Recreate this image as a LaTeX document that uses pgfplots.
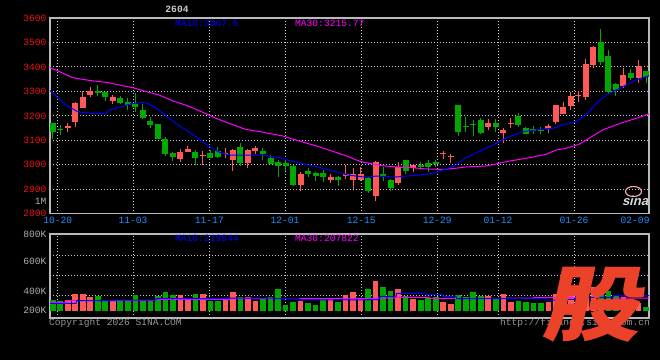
\documentclass[border=0pt]{standalone}
\usepackage{pgfplots}
\pgfplotsset{compat=1.18}
\usepackage{pgfplotstable}
\usepackage{fontspec}
\setmainfont{Liberation Sans}
\setmonofont{Liberation Mono}
\newfontfamily\cjk[FakeSlant=0.18]{Noto Sans CJK SC}
\newfontfamily\sinafont[FakeSlant=0.25]{Liberation Sans}
\definecolor{cup}{RGB}{255,88,88}
\definecolor{cdn}{RGB}{0,168,0}
\definecolor{ma10}{RGB}{0,0,255}
\definecolor{ma30}{RGB}{255,0,255}
\definecolor{framec}{RGB}{185,185,185}
\definecolor{gridc}{RGB}{200,200,200}
\definecolor{xlab}{RGB}{30,144,255}
\definecolor{ylab}{RGB}{235,20,20}
\definecolor{glab}{RGB}{175,175,175}
\definecolor{logoc}{RGB}{236,66,42}
\definecolor{toplab}{RGB}{205,205,205}
\definecolor{copyc}{RGB}{150,150,150}
\definecolor{eyec}{RGB}{240,160,170}
\definecolor{sinac}{RGB}{215,215,215}

\pgfplotstableread{
n o h l c v
2 3149 3171 3135 3157 340
3 3174 3255 3156 3253 380
4 3232 3302 3232 3277 380
5 3285 3318 3277 3302 360
8 3262 3285 3250 3277 340
17 3025 3065 3011 3052 373
18 3054 3075 3051 3063 353
20 3035 3056 2999 3039 380
23 3047 3067 3026 3050 340
24 3021 3065 2976 3060 393
26 3009 3065 2988 3060 360
27 3056 3075 3045 3067 335
33 2919 2971 2894 2962 335
37 2938 2961 2927 2949 347
39 2953 2999 2942 2962 373
40 2939 2986 2900 2962 393
41 2938 2990 2935 2962 347
43 2872 3015 2853 3011 467
46 2927 3011 2917 2992 413
48 2986 3005 2972 3001 349
52 3043 3056 3024 3050 327
53 3030 3044 3006 3036 313
58 3156 3187 3144 3171 367
60 3131 3149 3090 3142 380
61 3168 3190 3152 3172 327
66 3145 3168 3131 3159 327
67 3174 3244 3168 3244 380
68 3208 3255 3208 3235 373
69 3240 3299 3223 3281 400
70 3280 3302 3255 3284 380
71 3278 3434 3266 3412 440
72 3408 3486 3397 3482 430
76 3322 3397 3313 3367 360
78 3353 3428 3336 3404 320
}\upT

\pgfplotstableread{
n o h l c v
0 3171 3171 3107 3134 340
1 3145 3163 3122 3142 333
6 3300 3326 3281 3295 367
7 3298 3298 3262 3278 333
9 3273 3281 3247 3253 331
10 3257 3272 3225 3244 333
11 3250 3293 3217 3236 373
12 3225 3247 3189 3191 331
13 3179 3197 3152 3163 333
14 3167 3167 3105 3107 367
15 3105 3114 3037 3045 393
16 3048 3054 3017 3032 373
19 3052 3059 2999 3029 380
21 3050 3062 3026 3029 333
22 3056 3073 3029 3032 333
25 3073 3089 2996 3009 360
28 3056 3067 3021 3043 347
29 3029 3040 3003 3005 360
30 3011 3018 2951 2996 413
31 3009 3018 2975 2996 307
32 2996 2999 2915 2919 327
34 2975 2986 2950 2961 320
35 2965 2969 2935 2956 309
36 2968 2979 2931 2951 347
38 2950 2954 2915 2939 327
42 2945 2950 2886 2893 413
44 2961 2992 2935 2953 427
45 2939 2942 2894 2905 400
47 3020 3020 2964 2976 367
49 2999 3011 2979 2992 342
50 3007 3018 2972 2992 356
51 3013 3018 2990 3005 362
54 3244 3244 3119 3134 373
55 3159 3197 3134 3156 360
56 3168 3183 3119 3161 393
57 3183 3190 3126 3130 367
59 3171 3187 3135 3156 347
62 3199 3212 3154 3163 335
63 3149 3154 3125 3127 327
64 3145 3157 3125 3139 320
65 3142 3154 3125 3138 320
73 3501 3555 3408 3422 420
74 3445 3469 3288 3299 400
75 3330 3333 3283 3306 373
77 3374 3390 3347 3353 346
79 3383 3383 3336 3360 293
}\dnT

\pgfplotsset{
  kbase/.style={
    scale only axis, anchor=south west, width=599pt,
    xmin=-0.36, xmax=79.4,
    axis line style={draw=framec, line width=1.2pt},
    tick style={draw=none}, major tick length=0pt,
    major grid style={draw=gridc, line width=0.9pt, dash pattern=on 1pt off 2pt},
    tick label style={font=\ttfamily\fontsize{9.6}{10}\selectfont},
    /pgf/number format/assume math mode=true,
    xtick={0.666,10.7,20.86,30.93,41.09,51.21,59.3,69.41},
  },
  wick/.style={draw=none, forget plot, error bars/.cd, y dir=minus, y explicit, error mark=none,
    error bar style={draw=#1, line width=1pt, solid}},
  body/.style={draw=none, forget plot, error bars/.cd, y dir=minus, y explicit, error mark=none,
    error bar style={draw=#1, line width=6pt, solid}},
  vbar/.style={draw=none, forget plot, error bars/.cd, y dir=minus, y explicit, error mark=none,
    error bar style={draw=#1, line width=5.6pt, solid}},
}

\begin{document}
\begin{tikzpicture}[x=1pt,y=1pt]
\fill[black] (0,0) rectangle (660,360);
\useasboundingbox (0,0) rectangle (660,360);
\coordinate (PA) at (50,146.3);
\coordinate (VA) at (50,42);

% ---------------- price panel ----------------
\begin{axis}[kbase, at={(PA)}, height=195.7pt,
  ymin=2800, ymax=3600,
  xmajorgrids=true, ymajorgrids=true,
  xticklabels={10-20,11-03,11-17,12-01,12-15,12-29,01-12,01-26},
  xticklabel style={text=xlab},
  extra x ticks={77.55}, extra x tick labels={02-09},
  extra x tick style={xmajorgrids=false, xticklabel style={text=xlab}},
  ytick={2800,2900,3000,3100,3200,3300,3400,3500,3600},
  yticklabels={2800,2900,3000,3100,3200,3300,3400,3500,3600},
  yticklabel style={text=ylab},
  extra y ticks={2850}, extra y tick labels={1M},
  extra y tick style={ymajorgrids=false, yticklabel style={text=glab}},
]
\addplot[wick=cup] table[x=n, y=h, y error minus expr=\thisrow{h}-\thisrow{l}] {\upT};
\addplot[wick=cdn] table[x=n, y=h, y error minus expr=\thisrow{h}-\thisrow{l}] {\dnT};
\addplot[body=cup] table[x=n, y=c, y error minus expr=\thisrow{c}-\thisrow{o}] {\upT};
\addplot[body=cdn] table[x=n, y=o, y error minus expr=\thisrow{o}-\thisrow{c}] {\dnT};
% MA30
\addplot[ma30, line width=1pt] coordinates {
(-0.36,3397)(0.88,3381)(2.66,3356)(4.0,3349)(5.33,3343)(7.1,3337)(8.9,3326)(10.7,3315)
(12.45,3299)(14.2,3285)(16.0,3261)(17.7,3244)(19.3,3224)(21.75,3190)(23.5,3169)(25.7,3145)
(28.0,3133)(30.6,3118)(32.4,3101)(35.1,3077)(37.7,3051)(39.3,3034)(40.8,3015)(42.1,3006)
(43.9,2996)(46.2,2990)(47.9,2988)(49.7,2983)(51.9,2981)(53.7,2986)(55.0,2991)(57.7,2995)
(59.3,3005)(60.8,3015)(63.5,3029)(65.7,3043)(67.0,3060)(68.3,3067)(70.1,3084)(71.4,3108)
(73.2,3142)(75.5,3169)(77.7,3190)(79.4,3208)};
% MA10
\addplot[ma10, line width=1pt] coordinates {
(-0.36,3304)(1.78,3244)(3.33,3217)(4.0,3214)(5.33,3210)(7.0,3210)(7.55,3224)(8.4,3231)
(9.8,3244)(10.7,3251)(12.0,3255)(12.7,3251)(13.8,3231)(15.2,3197)(16.7,3163)(18.1,3135)
(19.5,3105)(20.86,3074)(22.2,3051)(23.5,3040)(27.96,3039)(30.2,3029)(32.0,3013)(34.2,2998)
(36.84,2979)(39.3,2958)(41.7,2949)(43.05,2954)(45.7,2950)(46.8,2953)(48.8,2958)(50.6,2965)
(52.4,2983)(53.7,2999)(55.0,3029)(56.8,3054)(58.6,3081)(59.3,3092)(60.4,3111)(62.6,3135)
(64.8,3145)(66.6,3149)(67.9,3163)(69.7,3176)(71.0,3204)(72.4,3251)(73.7,3285)(75.5,3313)
(77.7,3347)(79.4,3364)};
\end{axis}

% ---------------- volume panel ----------------
\begin{axis}[kbase, at={(VA)}, height=84pt,
  ymin=220, ymax=780,
  xmajorgrids=true, ymajorgrids=false,
  xticklabels={},
  ytick={273,400,600,780},
  yticklabels={200K,400K,600K,800K},
  yticklabel style={text=glab},
  extra y ticks={372,505,638}, extra y tick labels={},
  extra y tick style={ymajorgrids=true},
]
\addplot[vbar=cup] table[x=n, y=v, y error minus expr=\thisrow{v}-269] {\upT};
\addplot[vbar=cdn] table[x=n, y=v, y error minus expr=\thisrow{v}-269] {\dnT};
\addplot[ma30, line width=1pt] coordinates {
(-0.36,322)(1.8,322)(1.9,335.6)(13.7,335.6)(13.8,342)(23.5,342)(23.6,349)(42.6,349)
(42.7,353)(45.7,353)(45.8,358)(50.1,358)(50.2,351)(59.9,351)(60,353)(63.9,353)(64,355.6)
(74.6,355.6)(74.7,353)(79.4,353)};
\addplot[ma10, line width=1pt] coordinates {
(-0.36,318)(3.1,318)(3.2,335.6)(8.2,335.6)(8.3,340)(13.7,340)(13.8,349)(23.3,349)(23.4,353)
(29.3,353)(29.4,349)(32.8,349)(32.9,340)(43.5,342)(43.6,364)(45.7,364)(45.8,384)(49.7,384)
(49.8,378)(51.9,378)(52,364)(53.7,364)(53.8,349)(62.2,349)(62.3,353)(63.9,353)(64,349)
(65.7,349)(65.8,340)(68.4,340)(68.5,344)(70.2,344)(70.3,358)(74.6,358)(74.7,369)(79.4,369)};
\end{axis}

% ---------------- texts ----------------
\begin{scope}[every node/.style={inner sep=0pt, font=\ttfamily\fontsize{9.6}{10}\selectfont}]
\node[anchor=center, text=toplab] at (177,351) {\bfseries 2604};
\node[anchor=west, text=ma10] at (175,336.5) {MA10:3367.5};
\node[anchor=west, text=ma30] at (295,336.5) {MA30:3215.77};
\node[anchor=west, text=ma10] at (175,121.5) {MA10:219844};
\node[anchor=west, text=ma30] at (295,121.5) {MA30:207822};
\node[anchor=west, text=copyc] at (49,36.5) {Copyright 2026 SINA.COM};
\node[anchor=east, text=copyc] at (650,36.5) {http://finance.sina.com.cn};
\end{scope}
% sina logo
\draw[eyec, line width=1.2pt] (633.5,168.5) ellipse (8 and 5);
\node[inner sep=0pt, text=sinac, font=\sinafont\bfseries\fontsize{13}{13}\selectfont] at (635,159) {sina};
% big logo
\node[inner sep=0pt, xscale=1.2, text=logoc, font=\cjk\bfseries\fontsize{82}{82}\selectfont] at (590.5,55.5) {股};
\end{tikzpicture}
\end{document}
